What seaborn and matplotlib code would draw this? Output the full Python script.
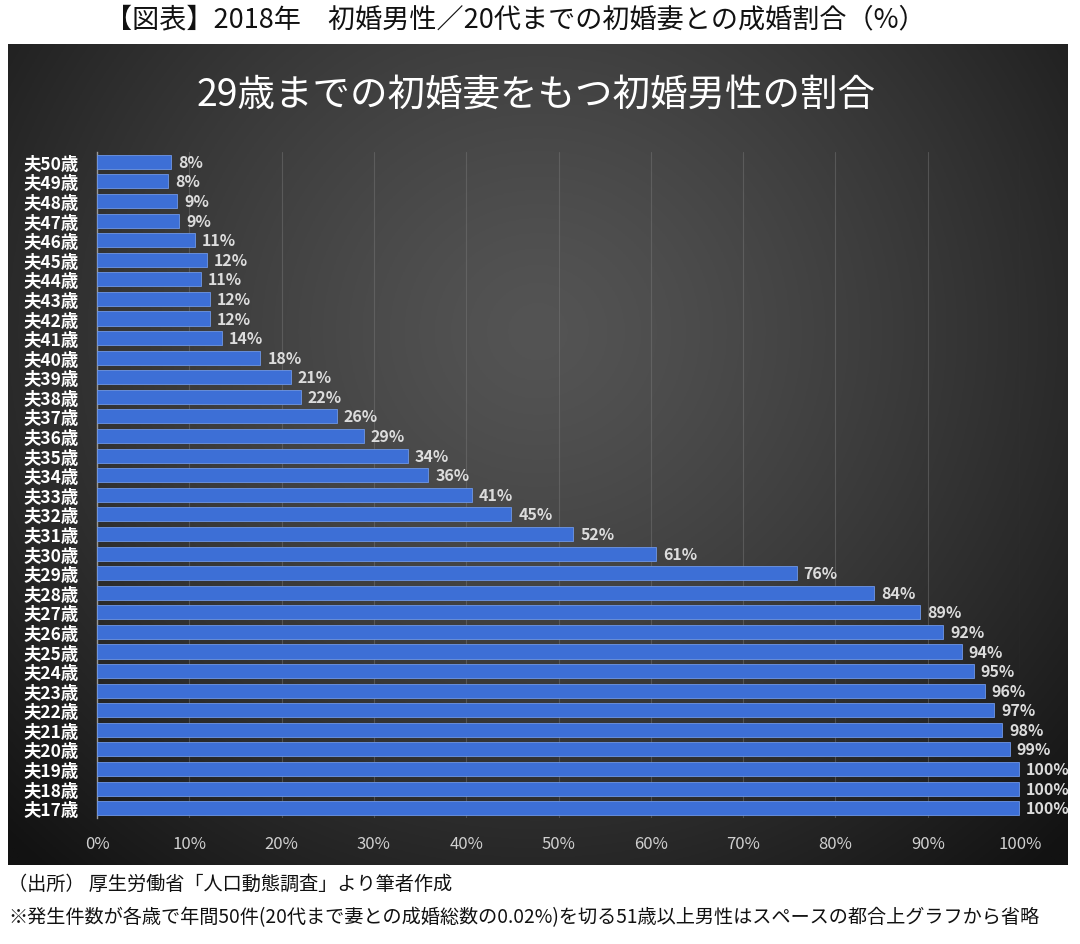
import numpy as np
import pandas as pd
import matplotlib
matplotlib.use("Agg")
import matplotlib.pyplot as plt
import seaborn as sns

ages = ["夫50歳", "夫49歳", "夫48歳", "夫47歳", "夫46歳", "夫45歳", "夫44歳", "夫43歳",
        "夫42歳", "夫41歳", "夫40歳", "夫39歳", "夫38歳", "夫37歳", "夫36歳", "夫35歳",
        "夫34歳", "夫33歳", "夫32歳", "夫31歳", "夫30歳", "夫29歳", "夫28歳", "夫27歳",
        "夫26歳", "夫25歳", "夫24歳", "夫23歳", "夫22歳", "夫21歳", "夫20歳", "夫19歳",
        "夫18歳", "夫17歳"]
shares = [8.0, 7.7, 8.7, 8.9, 10.6, 11.9, 11.3, 12.2, 12.2, 13.5, 17.7, 21.0, 22.1, 26.0,
          28.9, 33.7, 35.9, 40.6, 44.9, 51.6, 60.6, 75.8, 84.2, 89.2, 91.7, 93.7, 95.0,
          96.2, 97.2, 98.1, 98.9, 99.9, 99.9, 99.9]
xticks = [0, 10, 20, 30, 40, 50, 60, 70, 80, 90, 100]

title_outer = "【図表】2018年　初婚男性／20代までの初婚妻との成婚割合（%）"
title_inner = "29歳までの初婚妻をもつ初婚男性の割合"
note1 = "（出所） 厚生労働省「人口動態調査」より筆者作成"
note2 = "※発生件数が各歳で年間50件(20代まで妻との成婚総数の0.02%)を切る51歳以上男性はスペースの都合上グラフから省略"

sns.set_theme(style="dark")
plt.rcParams["font.family"] = ["Noto Sans CJK JP", "DejaVu Sans"]

W, H = 1080, 945
fig = plt.figure(figsize=(W / 100, H / 100), dpi=100)
fig.patch.set_facecolor("white")

# dark gradient panel
px0, px1, py0, py1 = 8, 1068, 45, 866
bg = fig.add_axes([px0 / W, 1 - py1 / H, (px1 - px0) / W, (py1 - py0) / H], zorder=0)
gx = np.linspace(-1, 1, 400)
gy = np.linspace(-1, 1, 320)
XX, YY = np.meshgrid(gx, gy)
r = np.sqrt((XX / 1.05) ** 2 + ((YY + 0.3) / 1.3) ** 2)
r = np.clip(r, 0, 1.35) / 1.35
c0 = np.array([0x54, 0x54, 0x54]) / 255
c1 = np.array([0x12, 0x12, 0x12]) / 255
img = c0[None, None, :] * (1 - r[..., None] ** 1.3) + c1[None, None, :] * (r[..., None] ** 1.3)
bg.imshow(img, aspect="auto", extent=[0, 1, 0, 1], origin="upper")
bg.set_axis_off()

# main axes
ax_l, ax_r = 97, 1020
ax_t, ax_b = 153, 819
ax = fig.add_axes([ax_l / W, 1 - ax_b / H, (ax_r - ax_l) / W, (ax_b - ax_t) / H], zorder=2)
ax.set_facecolor((0, 0, 0, 0))

df = pd.DataFrame({"age": ages, "share": shares})
sns.barplot(data=df, y="age", x="share", order=ages, orient="h", color="#3d6fd6",
            width=0.72, edgecolor="#6f97e6", linewidth=0.6, saturation=1, ax=ax, zorder=3)

ax.set_xlim(0, 100)
ax.set_ylim(len(ages) - 0.5, -0.5)
ax.set_xticks(xticks)
ax.set_xticklabels([f"{v}%" for v in xticks], color="#d0d0d0", fontsize=12)
ax.tick_params(axis="x", length=0, pad=12)
ax.tick_params(axis="y", length=0, pad=13, labelsize=12.5, labelcolor="white")
for t in ax.get_yticklabels():
    t.set_fontweight("bold")
ax.set_xlabel("")
ax.set_ylabel("")
ax.grid(False)
for v in xticks[1:]:
    ax.axvline(v, color="#7a7a7a", lw=0.8, alpha=0.45, zorder=1)
for s in ["top", "right", "bottom"]:
    ax.spines[s].set_visible(False)
ax.spines["left"].set_color("#9a9a9a")
ax.spines["left"].set_linewidth(1.0)

for i, v in enumerate(shares):
    ax.annotate(f"{round(v):.0f}%", xy=(v, i), xytext=(5, 0), textcoords="offset points",
                ha="left", va="center", color="#dcdcdc", fontsize=11.5, fontweight="bold",
                zorder=5, annotation_clip=False)

fig.text(515 / W, 1 - 20 / H, title_outer, ha="center", va="center", fontsize=19.5, color="#111111")
fig.text(536 / W, 1 - 95 / H, title_inner, ha="center", va="center", fontsize=27,
         color="white", zorder=5)
fig.text(8 / W, 1 - 884 / H, note1, ha="left", va="center", fontsize=13.8, color="#111111")
fig.text(8 / W, 1 - 918 / H, note2, ha="left", va="center", fontsize=13.8, color="#111111")

fig.savefig("out.png", dpi=100, facecolor="white")
